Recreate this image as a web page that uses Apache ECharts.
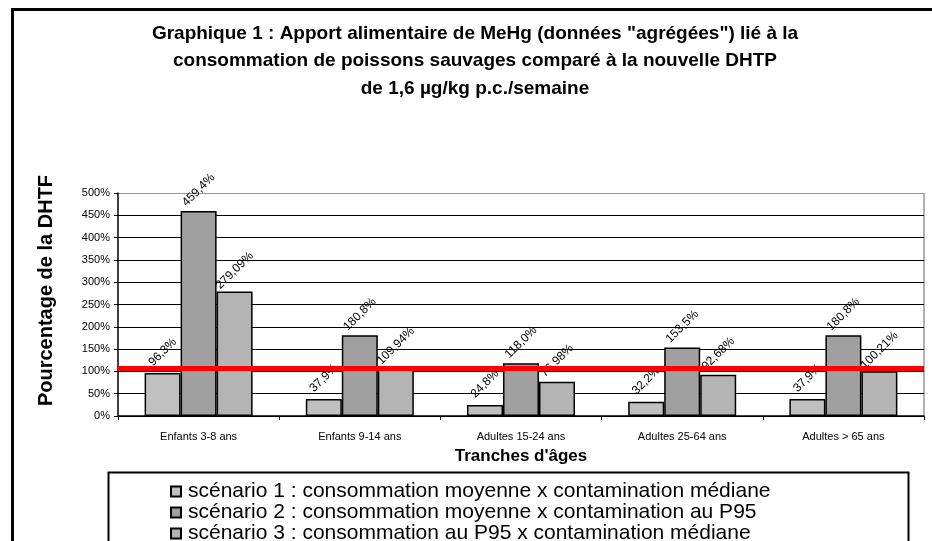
<!DOCTYPE html>
<html>
<head>
<meta charset="utf-8">
<script src="https://cdn.jsdelivr.net/npm/echarts@6/dist/echarts.min.js"></script>
<style>
  html, body { margin: 0; padding: 0; background: #fff; }
  #chart { width: 932px; height: 541px; }
</style>
</head>
<body>
<div id="chart"></div>
<script>
const categories = ['Enfants 3-8 ans', 'Enfants 9-14 ans', 'Adultes 15-24 ans', 'Adultes 25-64 ans', 'Adultes > 65 ans']
const seriesNames = [
  'scénario 1 : consommation moyenne x contamination médiane',
  'scénario 2 : consommation moyenne x contamination au P95',
  'scénario 3 : consommation au P95 x contamination médiane'
]
const scenario1 = [96.3, 37.9, 24.8, 32.2, 37.9]
const scenario2 = [459.4, 180.8, 118.0, 153.5, 180.8]
const scenario3 = [279.09, 109.94, 76.98, 92.68, 100.21]
const labels1 = ['96,3%', '37,9%', '24,8%', '32,2%', '37,9%']
const labels2 = ['459,4%', '180,8%', '118,0%', '153,5%', '180,8%']
const labels3 = ['279,09%', '109,94%', '76,98%', '92,68%', '100,21%']
const yTicks = { min: 0, max: 500, interval: 50 }
const dhtpLine = 108

const colors = ['#c0c0c0', '#a0a0a0', '#b4b4b4']
const font = '"Liberation Sans", Arial, sans-serif'

const myChart = echarts.init(document.getElementById('chart'))

const makeSeries = (name, data, lbls, idx) => ({
  name: name,
  type: 'bar',
  data: data,
  barGap: '0%',
  barCategoryGap: '33%',
  itemStyle: { color: colors[idx], borderColor: '#000', borderWidth: 1.5 },
  label: {
    show: true,
    position: 'top',
    rotate: 45,
    distance: 21,
    align: 'center',
    verticalAlign: 'middle',
    fontFamily: font,
    fontSize: 12,
    color: '#000',
    formatter: (p) => lbls[p.dataIndex]
  }
})

const series = [
  makeSeries(seriesNames[0], scenario1, labels1, 0),
  makeSeries(seriesNames[1], scenario2, labels2, 1),
  makeSeries(seriesNames[2], scenario3, labels3, 2)
]
series[0].markLine = {
  silent: true,
  symbol: 'none',
  label: { show: false },
  lineStyle: { color: '#ff0000', width: 5, type: 'solid' },
  data: [{ yAxis: dhtpLine }]
}

const option = {
  animation: false,
  color: colors,
  textStyle: { fontFamily: font },
  graphic: [
    {
      type: 'rect',
      left: 10, top: 7,
      shape: { width: 940, height: 560 },
      style: { fill: 'none', stroke: '#000', lineWidth: 3 },
      z: 100
    },
    {
      type: 'rect',
      left: 106, top: 470,
      shape: { width: 800, height: 100 },
      style: { fill: 'none', stroke: '#000', lineWidth: 2 },
      z: 100
    },
    {
      // gray plot border on the right side
      type: 'line',
      shape: { x1: 924, y1: 193, x2: 924, y2: 416 },
      style: { stroke: '#999', lineWidth: 1.5 }
    }
  ],
  title: {
    text: 'Graphique 1 : Apport alimentaire de MeHg (données "agrégées") lié à la\nconsommation de poissons sauvages comparé à la nouvelle DHTP\nde 1,6 µg/kg p.c./semaine',
    left: 470,
    top: 15,
    textAlign: 'center',
    textStyle: { fontFamily: font, fontSize: 19, fontWeight: 'bold', color: '#000', lineHeight: 27.5 }
  },
  legend: {
    orient: 'vertical',
    left: 165,
    top: 476,
    height: 300,
    itemWidth: 10,
    itemHeight: 10,
    itemGap: 0,
    icon: 'rect',
    data: seriesNames,
    textStyle: { fontFamily: font, fontSize: 21, color: '#000', lineHeight: 21, padding: [0, 0, 0, 2] }
  },
  grid: { left: 118, right: 8, top: 193, bottom: 125 },
  xAxis: {
    type: 'category',
    data: categories,
    name: "Tranches d'âges",
    nameLocation: 'middle',
    nameGap: 32,
    nameTextStyle: { fontFamily: font, fontSize: 17, fontWeight: 'bold', color: '#000' },
    axisLine: { lineStyle: { color: '#000', width: 1.5 } },
    axisTick: { show: true, length: 4, lineStyle: { color: '#000' } },
    axisLabel: { fontFamily: font, fontSize: 11, color: '#000', margin: 15 }
  },
  yAxis: {
    type: 'value',
    min: yTicks.min,
    max: yTicks.max,
    interval: yTicks.interval,
    name: 'Pourcentage de la DHTF',
    nameLocation: 'middle',
    nameGap: 62,
    nameTextStyle: { fontFamily: font, fontSize: 20, fontWeight: 'bold', color: '#000', padding: [0, 0, 0, 28] },
    axisLine: { show: true, lineStyle: { color: '#000', width: 1.5 } },
    axisTick: { show: true, length: 4, lineStyle: { color: '#000' } },
    axisLabel: { fontFamily: font, fontSize: 11, color: '#000', margin: 8, formatter: '{value}%' },
    splitLine: {
      show: true,
      lineStyle: { color: ['#000', '#000', '#000', '#000', '#000', '#000', '#000', '#000', '#000', '#000', '#999'], width: 1 }
    }
  },
  series: series
}

myChart.setOption(option)
</script>
</body>
</html>
